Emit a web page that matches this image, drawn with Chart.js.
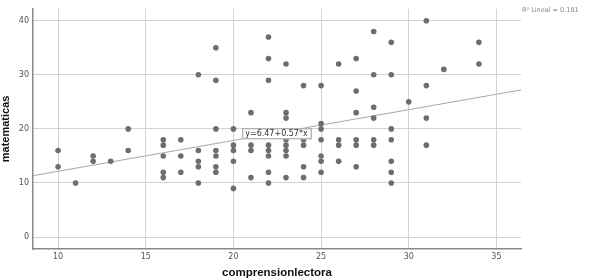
<!DOCTYPE html>
<html>
<head>
<meta charset="utf-8">
<script src="https://cdn.jsdelivr.net/npm/chart.js@4.4.0/dist/chart.umd.min.js"></script>
<style>
  html, body { margin: 0; padding: 0; background: #fff; }
  #wrap { width: 590px; height: 280px; }
</style>
</head>
<body>
<div id="wrap"><canvas id="c"></canvas></div>
<script>
// comprension lectora values (x) and the matematicas scores seen in each column (y)
const comprension = [10, 11, 12, 13, 14, 16, 17, 18, 19, 20, 21, 22, 23, 24, 25, 26, 27, 28, 29, 30, 31, 32, 34];
const matematicas = [
  [16, 13], [10], [15, 14], [14], [20, 16],
  [18, 17, 15, 12, 11], [18, 15, 12], [30, 16, 14, 13, 10],
  [35, 29, 20, 16, 15, 13, 12], [20, 17, 16, 14, 9], [23, 17, 16, 11],
  [37, 33, 29, 17, 16, 15, 12, 10], [32, 23, 22, 18, 17, 16, 15, 11],
  [28, 18, 17, 13, 11], [28, 21, 20, 18, 15, 14, 12], [32, 18, 17, 14],
  [33, 27, 23, 18, 17, 13], [38, 30, 24, 22, 18, 17],
  [36, 30, 20, 18, 14, 12, 10], [25], [40, 28, 22, 17], [31], [36, 32]
];
const xTicks = [10, 15, 20, 25, 30, 35];
const yTicks = [0, 10, 20, 30, 40];

// fit line ends (y = 6.47 + 0.57x) across the plot
const fitX = [8.57, 36.4];
const fitY = [11.35, 27.2];
const fitLabel = 'y=6.47+0.57*x';
const fitLabelAt = [20.5, 19.1];
const r2Label = 'R\u00B2 Lineal = 0.181';

const points = comprension.flatMap((x, i) => matematicas[i].map(y => ({ x: x, y: y })));
const fitPoints = fitX.map((x, i) => ({ x: x, y: fitY[i] }));

const labelsPlugin = {
  id: 'labels',
  afterDatasetsDraw(chart) {
    const ctx = chart.ctx;
    const xs = chart.scales.x, ys = chart.scales.y;
    ctx.save();
    ctx.font = '8px "DejaVu Sans"';
    const w = ctx.measureText(fitLabel).width + 6;
    const lx = xs.getPixelForValue(fitLabelAt[0]);
    const ly = ys.getPixelForValue(fitLabelAt[1]);
    ctx.fillStyle = '#fff';
    ctx.strokeStyle = '#999';
    ctx.lineWidth = 1;
    ctx.fillRect(lx, ly - 5.5, w, 11);
    ctx.strokeRect(lx + 0.5, ly - 5, w, 10);
    ctx.fillStyle = '#333';
    ctx.textBaseline = 'middle';
    ctx.fillText(fitLabel, lx + 3, ly + 0.5);

    ctx.font = '6.5px "DejaVu Sans"';
    ctx.fillStyle = '#888';
    ctx.fillText(r2Label, 522, 10);
    ctx.restore();
  }
};

const setTicks = list => scale => { scale.ticks = list.map(v => ({ value: v })); };

new Chart(document.getElementById('c'), {
  type: 'scatter',
  data: {
    datasets: [
      {
        label: 'matematicas',
        data: points,
        backgroundColor: '#6d6d6d',
        borderWidth: 0,
        pointRadius: 2.8,
        order: 1
      },
      {
        type: 'line',
        label: 'fit',
        data: fitPoints,
        borderColor: '#a8a8a8',
        borderWidth: 1,
        pointRadius: 0,
        fill: false,
        order: 2
      }
    ]
  },
  options: {
    responsive: true,
    maintainAspectRatio: false,
    animation: false,
    layout: { padding: { left: 0, right: 69, top: 5, bottom: 0 } },
    plugins: {
      legend: { display: false },
      tooltip: { enabled: false }
    },
    scales: {
      x: {
        type: 'linear',
        min: 8.57,
        max: 36.4,
        afterBuildTicks: setTicks(xTicks),
        afterFit: scale => { scale.height = 31; },
        grid: { color: '#d2d2d2', lineWidth: 1, drawTicks: false },
        border: { display: true, color: '#8a8a8a', width: 1.5 },
        ticks: { color: '#555', padding: 3, font: { family: 'DejaVu Sans', size: 8 } },
        title: {
          display: true,
          text: 'comprensionlectora',
          color: '#111',
          padding: 0,
          font: { family: 'Liberation Sans', size: 11.5, weight: 'bold', lineHeight: 1.2 }
        }
      },
      y: {
        type: 'linear',
        min: -2.2,
        max: 42.2,
        afterBuildTicks: setTicks(yTicks),
        afterFit: scale => { scale.width = 33; },
        grid: { color: '#d2d2d2', lineWidth: 1, drawTicks: false },
        border: { display: true, color: '#8a8a8a', width: 1.5 },
        ticks: { color: '#555', padding: 4, font: { family: 'DejaVu Sans', size: 8 } },
        title: {
          display: true,
          text: 'matematicas',
          color: '#111',
          padding: 0,
          font: { family: 'Liberation Sans', size: 11, weight: 'bold', lineHeight: 1 }
        }
      }
    }
  },
  plugins: [labelsPlugin]
});
</script>
</body>
</html>
